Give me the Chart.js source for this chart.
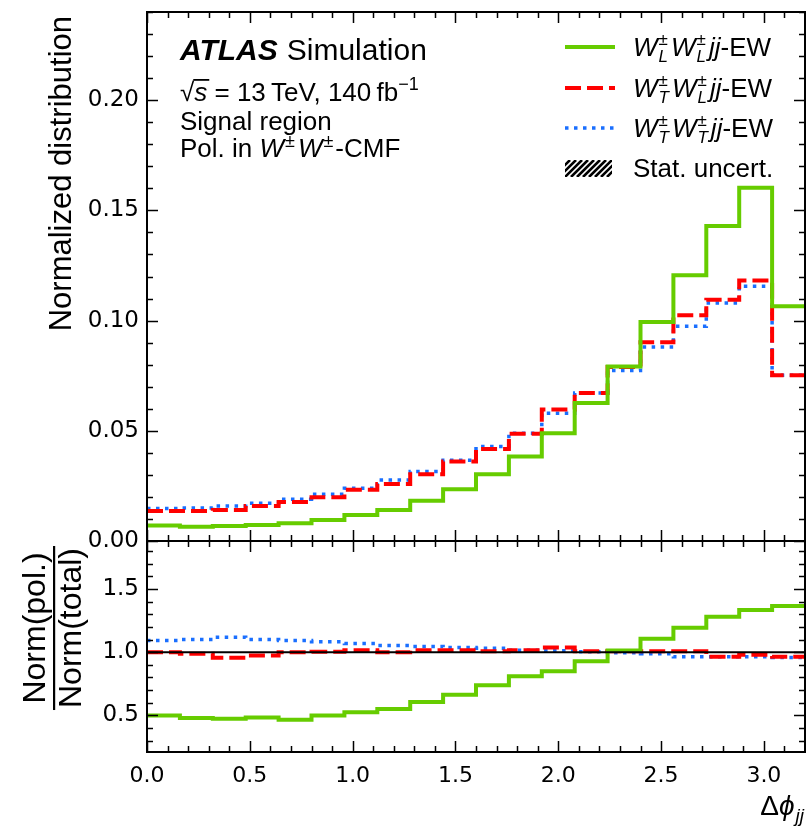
<!DOCTYPE html>
<html><head><meta charset="utf-8">
<script src="https://cdn.jsdelivr.net/npm/chart.js@4.4.1/dist/chart.umd.min.js"></script>
<style>
html,body{margin:0;padding:0;background:#fff;}
#wrap{position:relative;width:806px;height:829px;overflow:hidden;background:#fff;}
canvas{position:absolute;left:0;top:0;}
</style></head><body>
<div id="wrap"><canvas id="c1" width="806" height="829"></canvas><canvas id="c2" width="806" height="829"></canvas></div>
<script>
// ---- data ----
const binEdges = [0.00,0.16,0.32,0.48,0.64,0.80,0.96,1.12,1.28,1.44,1.60,1.76,1.92,2.08,2.24,2.40,2.56,2.72,2.88,3.04,3.20];
const xTickLabels = ["0.0","0.5","1.0","1.5","2.0","2.5","3.0"];
const seriesNames = ["LL","TL","TT"];
// normalized distributions (upper panel)
const normLL = [0.0070,0.0065,0.0068,0.0073,0.0080,0.0095,0.0118,0.0141,0.0183,0.0235,0.0303,0.0383,0.0489,0.0626,0.0792,0.0994,0.1206,0.1429,0.1603,0.1065];
const normTL = [0.0136,0.0136,0.0141,0.0159,0.0177,0.0198,0.0232,0.0259,0.0303,0.0361,0.0417,0.0487,0.0597,0.0672,0.0789,0.0902,0.1024,0.1095,0.1182,0.0752];
const normTT = [0.0148,0.0150,0.0159,0.0171,0.0189,0.0212,0.0239,0.0277,0.0315,0.0366,0.0429,0.0489,0.0580,0.0672,0.0774,0.0880,0.0974,0.1080,0.1156,0.0752];
// ratios Norm(pol.)/Norm(total) (lower panel)
const ratioLL = [0.498,0.479,0.474,0.484,0.466,0.498,0.524,0.551,0.606,0.664,0.738,0.810,0.849,0.929,1.013,1.106,1.193,1.281,1.333,1.365];
const ratioTL = [1.000,0.987,0.955,0.974,1.000,1.003,1.016,1.000,1.016,1.016,1.008,1.016,1.037,1.008,1.008,1.008,1.008,0.963,0.980,0.963];
const ratioTT = [1.093,1.101,1.119,1.101,1.093,1.082,1.069,1.053,1.045,1.037,1.032,1.016,1.011,1.003,0.995,0.987,0.963,0.963,0.963,0.958];

// ---- helpers ----
function stepPoints(vals){
  const pts = vals.map((v,i)=>({x:binEdges[i], y:v}));
  pts.push({x:binEdges[binEdges.length-1], y:vals[vals.length-1]});
  return pts;
}
const GREEN='#66cc00', RED='#ff0000', BLUE='#1a6fff';
const styles = {
  LL:{borderColor:GREEN,borderWidth:4,borderDash:[]},
  TL:{borderColor:RED,borderWidth:4,borderDash:[16,6]},
  TT:{borderColor:BLUE,borderWidth:3.5,borderDash:[3.5,5.5]}
};
function mkDatasets(arrs){
  return seriesNames.map((n,k)=>Object.assign({
    label:n, data:stepPoints(arrs[k]), stepped:true, pointRadius:0, fill:false, tension:0
  }, styles[n]));
}
const YFONT = {family:'DejaVu Sans', size:23};
const XFONT = {family:'DejaVu Sans', size:22};
function noPad(s){s.paddingTop=0;s.paddingBottom=0;s.paddingLeft=0;s.paddingRight=0;}

function drawFrame(chart, xMaj, xMin, yMaj, yMin){
  const ctx=chart.ctx, a=chart.chartArea, xs=chart.scales.x, ys=chart.scales.y;
  ctx.save();
  ctx.strokeStyle='#000';
  ctx.lineWidth=1.5;
  ctx.beginPath();
  const tick=(vals,len,isX)=>{
    for(const v of vals){
      if(isX){
        const p=Math.round(xs.getPixelForValue(v))+0.5;
        if(p<a.left-1||p>a.right+1) continue;
        ctx.moveTo(p,a.bottom); ctx.lineTo(p,a.bottom-len);
        ctx.moveTo(p,a.top); ctx.lineTo(p,a.top+len);
      } else {
        const p=Math.round(ys.getPixelForValue(v))+0.5;
        if(p<a.top-1||p>a.bottom+1) continue;
        ctx.moveTo(a.left,p); ctx.lineTo(a.left+len,p);
        ctx.moveTo(a.right,p); ctx.lineTo(a.right-len,p);
      }
    }
  };
  tick(xMaj,11,true); tick(xMin,6,true); tick(yMaj,11,false); tick(yMin,6,false);
  ctx.stroke();
  ctx.lineWidth=2;
  ctx.strokeRect(a.left,a.top,a.right-a.left,a.bottom-a.top);
  ctx.restore();
}
function range(a,b,s){const r=[];for(let v=a;v<=b+1e-9;v+=s)r.push(Math.round(v*1000)/1000);return r;}
const xMajor=range(0,3.0,0.5), xMinor=range(0,3.2,0.1);

// text runs: parts {t, f, dy, sup, sub}
function drawRuns(ctx,x,y,parts){
  for(const p of parts){
    if(p.sup!==undefined||p.sub!==undefined){
      let w=0;
      ctx.font=p.f;
      if(p.sup){ctx.fillText(p.sup,x,y+(p.supDy??-11)); w=Math.max(w,ctx.measureText(p.sup).width);}
      if(p.sub){ctx.fillText(p.sub,x+(p.subDx||0),y+(p.subDy??7)); w=Math.max(w,ctx.measureText(p.sub).width+(p.subDx||0));}
      x+=w+(p.gap||0);
    } else {
      ctx.font=p.f;
      ctx.fillText(p.t,x,y+(p.dy||0));
      x+=ctx.measureText(p.t).width+(p.gap||0);
    }
  }
  return x;
}
function runsWidth(ctx,parts){
  let w=0;
  for(const p of parts){
    ctx.font=p.f;
    if(p.sup!==undefined||p.sub!==undefined){
      w+=Math.max(p.sup?ctx.measureText(p.sup).width:0,p.sub?ctx.measureText(p.sub).width:0)+(p.gap||0);
    } else w+=ctx.measureText(p.t).width+(p.gap||0);
  }
  return w;
}
const SANS="'Liberation Sans', Arial, sans-serif";
const R=(s)=>`${s}px ${SANS}`, I=(s)=>`italic ${s}px ${SANS}`;

const textPlugin={id:'texts',afterDraw(chart){
  const ctx=chart.ctx;
  ctx.save(); ctx.fillStyle='#000'; ctx.textBaseline='alphabetic'; ctx.textAlign='left';
  // ATLAS label
  drawRuns(ctx,180,60,[{t:'ATLAS',f:`bold italic 30px ${SANS}`,gap:9},{t:'Simulation',f:R(30)}]);
  // sqrt(s) line
  ctx.font=R(26);
  let x0=180; ctx.fillText('\u221A',x0,101); x0+=ctx.measureText('\u221A').width;
  ctx.font=I(26); ctx.fillText('s',x0,101); const sw=ctx.measureText('s').width;
  ctx.fillRect(x0-1,79,sw+3,1.8); x0+=sw;
  drawRuns(ctx,x0,101,[{t:' = 13\u2009TeV, 140\u2009fb',f:R(26)},{t:'\u22121',f:R(18),dy:-11}]);
  ctx.font=R(26); ctx.fillText('Signal region',180,130);
  drawRuns(ctx,180,157,[{t:'Pol. in ',f:R(26)},{t:'W',f:I(26),gap:1},{sup:'\u00B1',f:R(18),supDy:-10,gap:3},{t:'W',f:I(26),gap:1},{sup:'\u00B1',f:R(18),supDy:-10,gap:2},{t:'-CMF',f:R(26)}]);
  // legend
  const lx0=565,lx1=615,tx=633;
  const rows=[
    {y:47,st:styles.LL,sub:'L',sub2:'L'},
    {y:88,st:styles.TL,sub:'T',sub2:'L'},
    {y:128,st:styles.TT,sub:'T',sub2:'T'}
  ];
  for(const r of rows){
    ctx.save(); ctx.strokeStyle=r.st.borderColor; ctx.lineWidth=r.st.borderWidth; ctx.setLineDash(r.st.borderDash);
    ctx.beginPath(); ctx.moveTo(lx0,r.y); ctx.lineTo(lx1,r.y); ctx.stroke(); ctx.restore();
    drawRuns(ctx,tx,r.y+9,[{t:'W',f:I(26),gap:1},{sup:'\u00B1',sub:r.sub,f:I(17),supDy:-11,subDy:6,gap:3},
      {t:'W',f:I(26),gap:1},{sup:'\u00B1',sub:r.sub2,f:I(17),supDy:-11,subDy:6,gap:3},{t:'jj',f:I(26)},{t:'-EW',f:R(26)}]);
  }
  // hatch legend
  ctx.save(); ctx.beginPath(); ctx.rect(565,160,47,17); ctx.clip();
  ctx.strokeStyle='#000'; ctx.lineWidth=2.6; ctx.beginPath();
  for(let k=-30;k<70;k+=6){ctx.moveTo(565+k,177); ctx.lineTo(565+k+17,160);}
  ctx.stroke(); ctx.restore();
  ctx.font=R(26); ctx.fillText('Stat. uncert.',633,177);
  // y title (aligned to top of axes)
  ctx.save(); ctx.translate(71,chart.chartArea.top+4); ctx.rotate(-Math.PI/2); ctx.textAlign='right';
  ctx.font=R(31); ctx.fillText('Normalized distribution',0,0); ctx.restore();
  ctx.restore();
}};

const botTextPlugin={id:'btexts',afterDraw(chart){
  const ctx=chart.ctx, a=chart.chartArea;
  ctx.save(); ctx.fillStyle='#000';
  // fraction y title aligned to top of lower axes
  ctx.font=R(32);
  const wNum=ctx.measureText('Norm(pol.)').width, wDen=ctx.measureText('Norm(total)').width;
  const W=Math.max(wNum,wDen)+4;
  const cy=a.top+5+W/2;
  ctx.save(); ctx.translate(0,cy); ctx.rotate(-Math.PI/2); ctx.textAlign='center';
  ctx.fillText('Norm(pol.)',0,45);
  ctx.fillText('Norm(total)',0,81);
  ctx.fillRect(-W/2,53,W,2.2);
  ctx.restore();
  // x title aligned to right of axes
  const parts=[{t:'\u0394',f:R(28)},{t:'\u03D5',f:I(28),gap:1},{t:'jj',f:I(19),dy:7}];
  const w=runsWidth(ctx,parts);
  drawRuns(ctx,a.right-w-1,815,parts);
  ctx.restore();
}};

const c1=new Chart(document.getElementById('c1'),{
  type:'line',
  data:{datasets:mkDatasets([normLL,normTL,normTT])},
  options:{
    responsive:false, animation:false, devicePixelRatio:1,
    layout:{padding:{left:0,right:1,top:12,bottom:288}},
    plugins:{legend:{display:false},tooltip:{enabled:false}},
    scales:{
      x:{type:'linear',min:0,max:3.2,display:false},
      y:{type:'linear',min:0,max:0.24,
        afterFit:(s)=>{s.width=147;noPad(s);},
        grid:{display:false,drawTicks:false},border:{display:false},
        ticks:{stepSize:0.05,includeBounds:false,padding:8,color:'#000',font:YFONT,
          callback:(v)=>v.toFixed(2)}}
    }
  },
  plugins:[{id:'f1',afterDatasetsDraw(ch){drawFrame(ch,xMajor,xMinor,range(0,0.24,0.05),range(0,0.24,0.01));}},textPlugin]
});

const c2=new Chart(document.getElementById('c2'),{
  type:'line',
  data:{datasets:[{label:'ref',data:[{x:0,y:1},{x:3.2,y:1}],borderColor:'#000',borderWidth:2,pointRadius:0}].concat(mkDatasets([ratioLL,ratioTL,ratioTT]))},
  options:{
    responsive:false, animation:false, devicePixelRatio:1,
    layout:{padding:{left:0,right:1,top:541,bottom:0}},
    plugins:{legend:{display:false},tooltip:{enabled:false}},
    scales:{
      x:{type:'linear',min:0,max:3.2,
        afterFit:(s)=>{s.height=77;noPad(s);},
        grid:{display:false,drawTicks:false},border:{display:false},
        ticks:{stepSize:0.5,includeBounds:false,padding:11,color:'#000',font:XFONT,maxRotation:0,
          callback:(v)=>v.toFixed(1)}},
      y:{type:'linear',min:0.21,max:1.88,
        afterFit:(s)=>{s.width=147;noPad(s);},
        grid:{display:false,drawTicks:false},border:{display:false},
        ticks:{stepSize:0.5,includeBounds:false,padding:8,color:'#000',font:YFONT,
          callback:(v)=>v.toFixed(1)}}
    }
  },
  plugins:[{id:'f2',afterDatasetsDraw(ch){drawFrame(ch,xMajor,xMinor,range(0.5,1.5,0.5),range(0.3,1.8,0.1));}},botTextPlugin]
});
</script>
</body></html>
